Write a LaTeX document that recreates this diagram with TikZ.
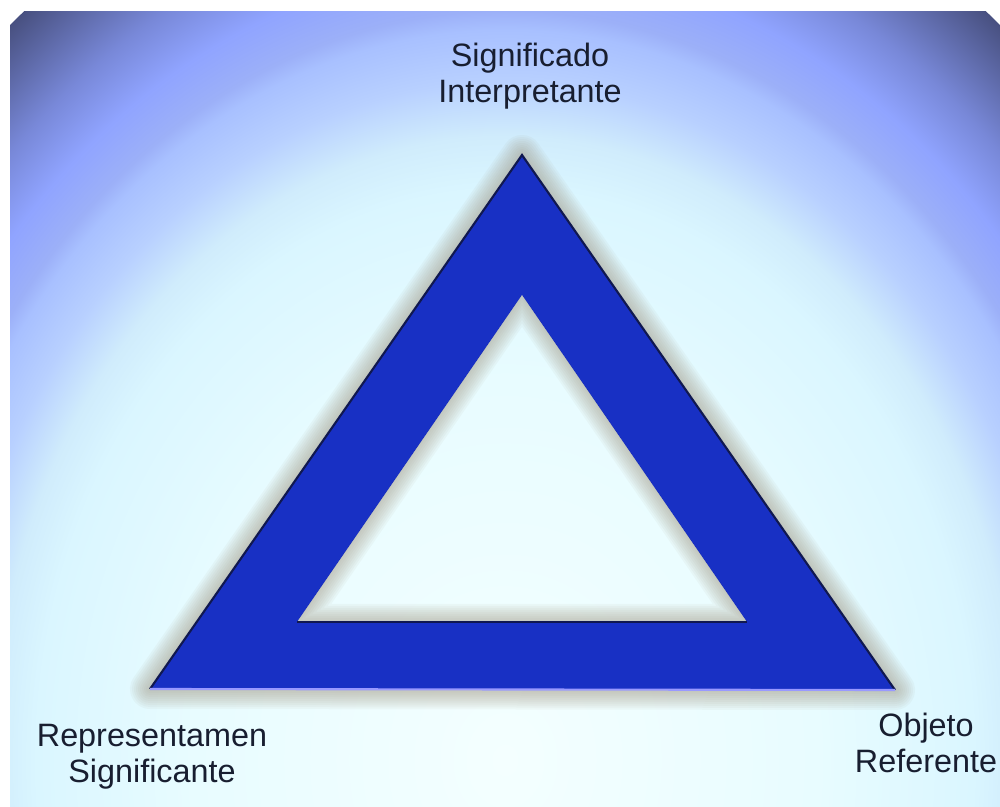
\documentclass[tikz,border=0pt]{standalone}
\usepackage{fontspec}
\setmainfont{Liberation Sans}
\usetikzlibrary{positioning}

\definecolor{bgA}{HTML}{F4FFFF}
\definecolor{bgB}{HTML}{E8FCFF}
\definecolor{bgC}{HTML}{DAF6FF}
\definecolor{bgD}{HTML}{D0ECFC}
\definecolor{bgE}{HTML}{B8D0FF}
\definecolor{bgF}{HTML}{A8C0FF}
\definecolor{bgG}{HTML}{9CB0F8}
\definecolor{bgH}{HTML}{90A4FF}
\definecolor{bgI}{HTML}{7888D8}
\definecolor{bgJ}{HTML}{485080}
\pgfdeclareradialshading{backdrop}{\pgfpointorigin}{color(0bp)=(bgA); color(10bp)=(bgB); color(15bp)=(bgC); color(16.4bp)=(bgD); color(17.85bp)=(bgE); color(19.2bp)=(bgF); color(19.7bp)=(bgG); color(20.95bp)=(bgH); color(22.5bp)=(bgI); color(25bp)=(bgJ); color(50bp)=(bgJ)}
\definecolor{triblue}{RGB}{24,48,196}
\definecolor{edgenavy}{RGB}{16,24,80}
\definecolor{glow}{RGB}{160,150,130}
\definecolor{labeltext}{RGB}{24,30,48}

\begin{document}
\begin{tikzpicture}[x=0.01cm, y=-0.01cm,
  vertex/.style={font=\fontsize{9.2}{10.2}\selectfont, text=labeltext, align=center, inner sep=0pt},
  ring/.style={fill=triblue, even odd rule},
  halo/.style={draw=glow, line join=round, opacity=0.065}
]
\useasboundingbox[fill=white] (0,0) rectangle (1000,807);
\begin{scope}
  \clip (10,12) rectangle (1000,807);
  \shade[shading=backdrop] (505,760) ellipse[x radius=7.8cm, y radius=9.5cm];
\end{scope}

\coordinate (top) at (522,155);
\coordinate (left) at (150,689);
\coordinate (right) at (895,690);
\coordinate (itop) at (522,295);
\coordinate (ileft) at (297,622);
\coordinate (iright) at (747,622);

\foreach \w in {4,8,...,40}
  \draw[halo, line width=\w*0.2845pt] (top) -- (left) -- (right) -- cycle;

\fill[ring] (top) -- (left) -- (right) -- cycle (itop) -- (ileft) -- (iright) -- cycle;

\begin{scope}
  \clip (itop) -- (ileft) -- (iright) -- cycle;
  \foreach \w in {4,8,...,36}
    \draw[halo, line width=\w*0.2845pt] (itop) -- (ileft) -- (iright) -- cycle;
\end{scope}

\draw[edgenavy, line width=0.6pt] (left) -- (top) -- (right);
\draw[blue!40!white, line width=0.6pt] (left) -- (right);
\draw[edgenavy, line width=0.8pt] (ileft) -- (iright);

\node[vertex] (interp) at (530,76.5) {Significado\\Interpretante};
\node[vertex] (repr) at (152,756.5) {Representamen\\Significante};
\node[vertex] (obj) at (926,743) {Objeto\\Referente};
\end{tikzpicture}
\end{document}
